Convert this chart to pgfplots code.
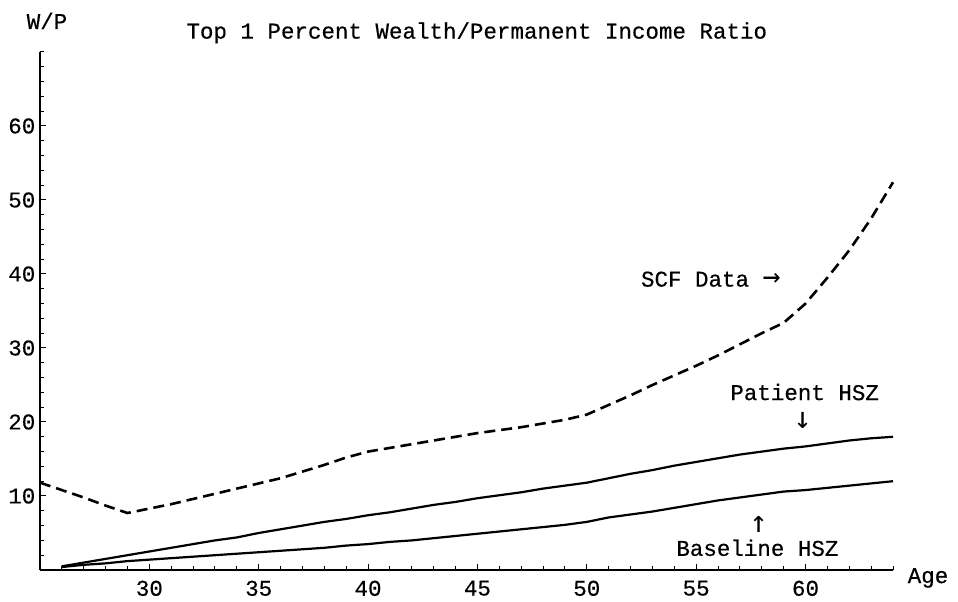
\documentclass[border=0pt]{standalone}
\usepackage{fontspec}
\setmainfont{Liberation Mono}[FakeBold=0.4]
\newfontfamily\arrowfont{DejaVu Sans Mono}
\newcommand{\arr}[1]{{\fontsize{30bp}{30bp}\arrowfont #1}}
\usepackage{pgfplots}
\pgfplotsset{compat=1.18}
\pgfplotstableread{
age scf
25 11.8
26 10.8
27 9.8
28 8.7
29 7.7
30 8.3
31 8.9
32 9.6
33 10.3
34 11.0
35 11.7
36 12.4
37 13.3
38 14.2
39 15.2
40 16.0
41 16.5
42 17.0
43 17.5
44 18.0
45 18.5
46 18.9
47 19.3
48 19.8
49 20.3
50 21.0
51 22.3
52 23.6
53 25.0
54 26.3
55 27.6
56 29.0
57 30.5
58 32.0
59 33.4
60 36.0
61 39.5
62 43.2
63 47.5
64 52.4
}\scf
\pgfplotstableread{
age pat base
26 0.5 0.4
27 1.0 0.7
28 1.5 0.9
29 2.0 1.2
30 2.5 1.4
31 3.0 1.6
32 3.5 1.8
33 4.0 2.0
34 4.4 2.2
35 5.0 2.4
36 5.5 2.6
37 6.0 2.8
38 6.5 3.0
39 6.9 3.3
40 7.4 3.5
41 7.8 3.8
42 8.3 4.0
43 8.8 4.3
44 9.2 4.6
45 9.7 4.9
46 10.1 5.2
47 10.5 5.5
48 11.0 5.8
49 11.4 6.1
50 11.8 6.5
51 12.4 7.1
52 13.0 7.5
53 13.5 7.9
54 14.1 8.4
55 14.6 8.9
56 15.1 9.4
57 15.6 9.8
58 16.0 10.2
59 16.4 10.6
60 16.7 10.8
61 17.1 11.1
62 17.5 11.4
63 17.8 11.7
64 18.0 12.0
}\hsz
\begin{document}
\fontsize{22.5bp}{27bp}\selectfont
\begin{tikzpicture}
\path[use as bounding box] (0,0) rectangle (958bp,602bp);
\begin{axis}[
  at={(40bp,32bp)}, anchor=south west,
  scale only axis, width=853bp, height=518bp,
  xmin=25, xmax=64, ymin=0, ymax=70,
  axis lines=left, axis line style={-, line width=1.6bp},
  tick align=inside,
  xtick={30,35,...,60}, ytick={10,20,...,60},
  minor xtick={26,...,64}, minor ytick={2,4,...,70},
  major tick length=6bp, minor tick length=3.5bp,
  tick style={line width=1bp, black},
  /pgf/number format/assume math mode=true,
  ticklabel style={font=\fontsize{22.5bp}{27bp}\selectfont},
  xticklabel style={yshift=-3bp},
  yticklabel style={xshift=3bp},
  clip=false,
]
\addplot[black, line width=2.6bp, dash pattern=on 11bp off 6bp] table[x=age,y=scf] {\scf};
\addplot[black, line width=2.2bp] table[x=age,y=pat] {\hsz};
\addplot[black, line width=2.2bp] table[x=age,y=base] {\hsz};
\node at (axis cs:44.97,72.6) {Top 1 Percent Wealth/Permanent Income Ratio};
\node at (axis cs:25.32,74.2) {W/P};
\node at (axis cs:65.6,-1.08) {Age};
\node at (axis cs:55.67,39.3) {SCF Data \arr{→}};
\node[inner sep=0pt] at (axis cs:59.96,24.05) {Patient HSZ};
\node[inner sep=0pt] at (axis cs:59.87,20.2) {\arr{↓}};
\node[inner sep=0pt] at (axis cs:57.86,6.2) {\arr{↑}};
\node[inner sep=0pt] at (axis cs:57.8,3.0) {Baseline HSZ};
\end{axis}
\end{tikzpicture}
\end{document}
